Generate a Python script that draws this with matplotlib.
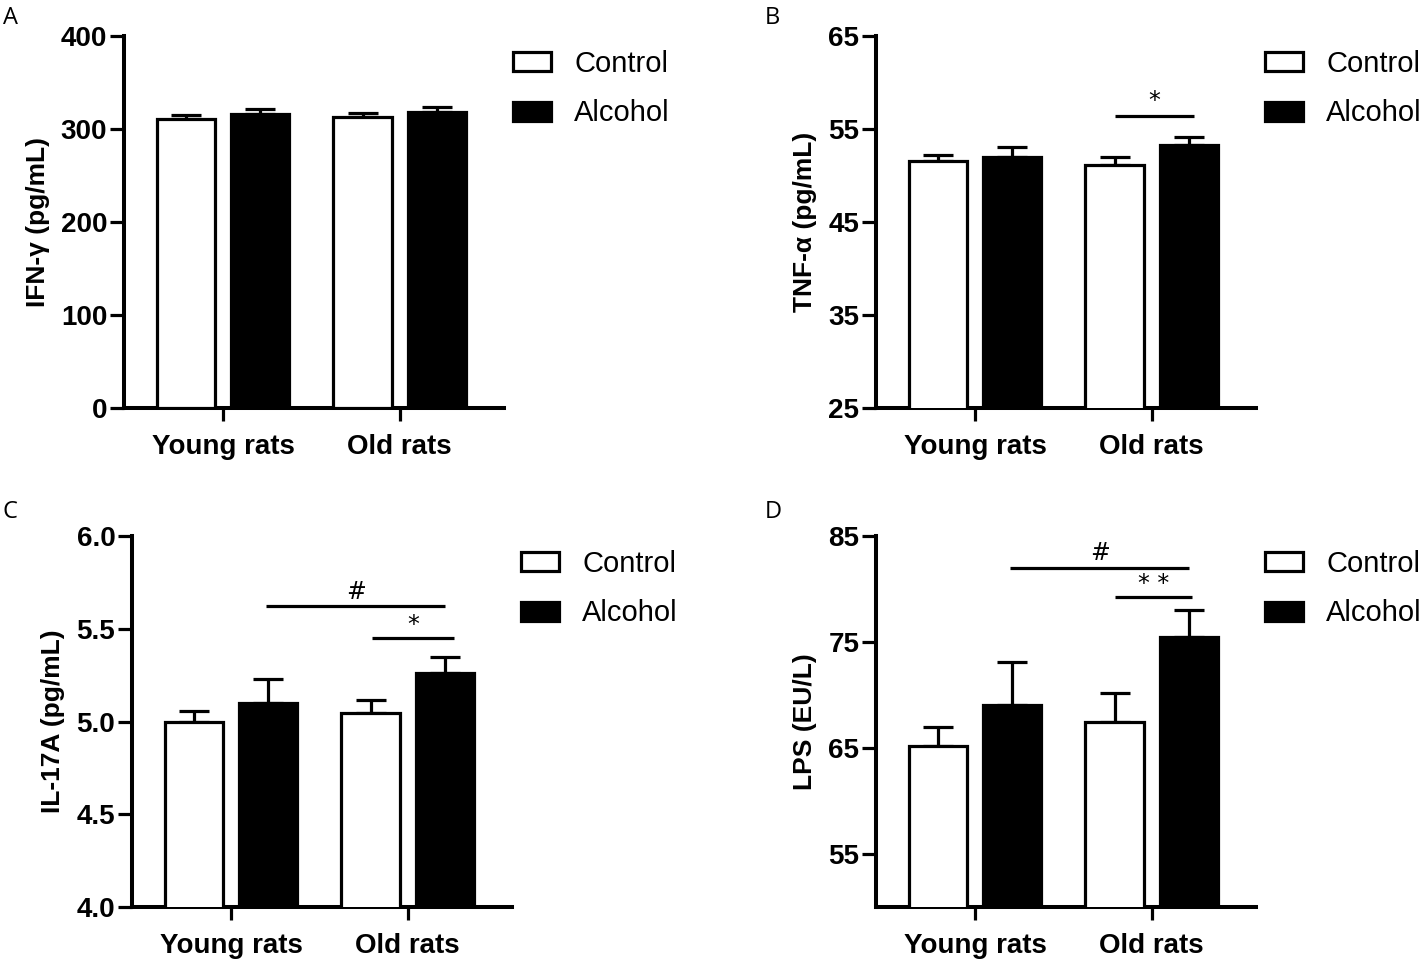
import matplotlib
matplotlib.use("Agg")
import matplotlib.pyplot as plt
from matplotlib.patches import Patch
import numpy as np

plt.rcParams["font.family"] = ["Liberation Sans", "DejaVu Sans"]

groups = ["Young rats", "Old rats"]

ifn_ctrl = [311, 313]
ifn_ctrl_err = [4, 4]
ifn_alc = [316, 318]
ifn_alc_err = [5, 6]

tnf_ctrl = [51.6, 51.1]
tnf_ctrl_err = [0.6, 0.9]
tnf_alc = [52.0, 53.3]
tnf_alc_err = [1.1, 0.8]

il_ctrl = [5.00, 5.045]
il_ctrl_err = [0.055, 0.07]
il_alc = [5.10, 5.26]
il_alc_err = [0.13, 0.09]

lps_ctrl = [65.2, 67.5]
lps_ctrl_err = [1.8, 2.7]
lps_alc = [69.1, 75.5]
lps_alc_err = [4.0, 2.5]

W, H = 1424, 960
fig = plt.figure(figsize=(W / 100, H / 100), dpi=100)


def px_axes(x0, x1, ytop, ybot):
    return fig.add_axes([x0 / W, 1 - ybot / H, (x1 - x0) / W, (ybot - ytop) / H])


def panel(ax, ctrl, ctrl_err, alc, alc_err, ylim, yticks, ylabel, fmt=None):
    x = np.arange(len(groups))
    off, bw = 0.21, 0.33
    ax.bar(x - off, ctrl, bw, color="white", edgecolor="black", linewidth=2.3, zorder=3)
    ax.bar(x + off, alc, bw, color="black", edgecolor="black", linewidth=2.3, zorder=3)
    ax.errorbar(x - off, ctrl, yerr=[np.zeros(2), ctrl_err], fmt="none", ecolor="black",
                elinewidth=2.3, capsize=11, capthick=2.3, zorder=2)
    ax.errorbar(x + off, alc, yerr=[np.zeros(2), alc_err], fmt="none", ecolor="black",
                elinewidth=2.3, capsize=11, capthick=2.3, zorder=2)
    ax.set_xlim(-0.56, 1.59)
    ax.set_ylim(*ylim)
    ax.set_yticks(yticks)
    if fmt:
        ax.set_yticklabels([fmt % t for t in yticks])
    ax.set_xticks(x)
    ax.set_xticklabels(groups, fontsize=20, fontweight="bold")
    for t in ax.get_yticklabels():
        t.set_fontsize(20)
        t.set_fontweight("bold")
    ax.set_ylabel(ylabel, fontsize=19, fontweight="bold", labelpad=8)
    for s in ["top", "right"]:
        ax.spines[s].set_visible(False)
    for s in ["left", "bottom"]:
        ax.spines[s].set_linewidth(2.9)
    ax.tick_params(axis="y", length=10, width=2.3, pad=2)
    ax.tick_params(axis="x", length=9, width=2.3, pad=10)
    handles = [Patch(facecolor="white", edgecolor="black", linewidth=2.3, label="Control"),
               Patch(facecolor="black", edgecolor="black", linewidth=2.3, label="Alcohol")]
    ax.legend(handles=handles, loc="upper left", bbox_to_anchor=(1.0, 0.987), frameon=False,
              fontsize=21, handlelength=1.3, handleheight=0.62, handletextpad=0.8,
              labelspacing=0.75, borderaxespad=0, borderpad=0.3)


def sig(ax, x0, x1, y, ty, label, size=17):
    ax.plot([x0, x1], [y, y], color="black", lw=2.3, solid_capstyle="butt", clip_on=False)
    ax.text((x0 + x1) / 2, ty, label, ha="center", va="center", fontsize=size,
            family="DejaVu Sans")


axA = px_axes(124, 504, 36, 408)
panel(axA, ifn_ctrl, ifn_ctrl_err, ifn_alc, ifn_alc_err, (0, 400), [0, 100, 200, 300, 400],
      "IFN-γ (pg/mL)")

axB = px_axes(876, 1256, 36, 408)
panel(axB, tnf_ctrl, tnf_ctrl_err, tnf_alc, tnf_alc_err, (25, 65), [25, 35, 45, 55, 65],
      "TNF-α (pg/mL)")
sig(axB, 0.79, 1.24, 56.4, 58.0, "*")

axC = px_axes(132, 512, 536, 907)
panel(axC, il_ctrl, il_ctrl_err, il_alc, il_alc_err, (4.0, 6.0), [4.0, 4.5, 5.0, 5.5, 6.0],
      "IL-17A (pg/mL)", fmt="%.1f")
sig(axC, 0.2, 1.21, 5.62, 5.70, "#")
sig(axC, 0.8, 1.26, 5.45, 5.52, "*")

axD = px_axes(876, 1256, 536, 907)
panel(axD, lps_ctrl, lps_ctrl_err, lps_alc, lps_alc_err, (50, 85), [55, 65, 75, 85],
      "LPS (EU/L)")
sig(axD, 0.2, 1.21, 82.0, 83.4, "#")
sig(axD, 0.79, 1.23, 79.2, 80.5, "* *")

for lbl, x, y in [("A", 3, 18), ("B", 765, 18), ("C", 3, 512), ("D", 765, 512)]:
    fig.text(x / W, 1 - y / H, lbl, fontsize=17, family="Open Sans", ha="left", va="center")

fig.savefig("out.png", dpi=100)
